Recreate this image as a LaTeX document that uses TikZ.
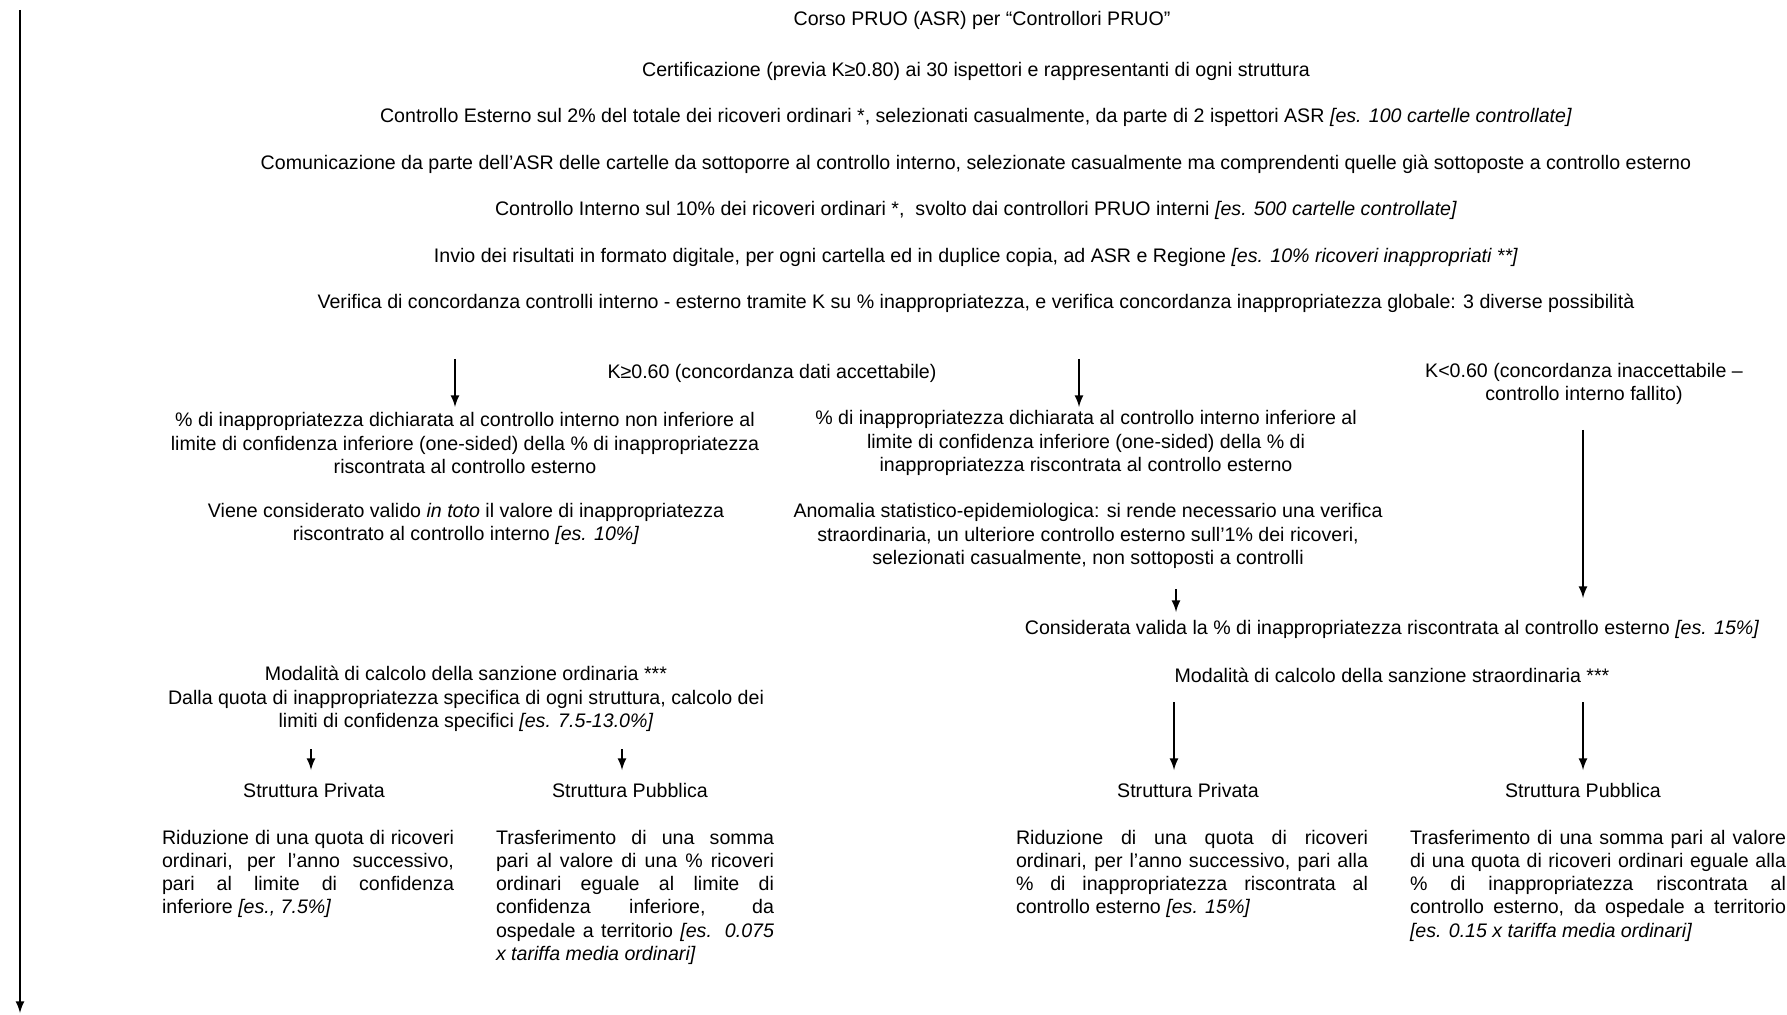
\documentclass[tikz,border=0pt]{standalone}
\usepackage{fontspec}
\setmainfont{Liberation Sans}
\newcommand{\jrow}[2]{\setbox0\hbox{#2}\ifdim\wd0>#1\relax\resizebox{#1}{\height}{#2}\else\makebox[#1][s]{#2}\fi}
\begin{document}
\begin{tikzpicture}[>=latex,x=0.5pt,y=-0.5pt,line width=1pt,
  txt/.style={inner sep=0pt,align=center,font=\fontsize{9.8}{11.6}\selectfont},
  blk/.style={inner sep=0pt,align=left,anchor=north west,font=\fontsize{9.8}{11.6}\selectfont}]
\useasboundingbox (0,0) rectangle (1787,1015);
\coordinate (top) at (20,10);
\coordinate (bot) at (20,1013);
\draw[->] (top)--(bot);

\node[txt] (t1) at (982,20) {Corso PRUO (ASR) per “Controllori PRUO”};
\node[txt] (t2) at (976,71) {Certificazione (previa K≥0.80) ai 30 ispettori e rappresentanti di ogni struttura};
\node[txt] (t3) at (976,117) {Controllo Esterno sul 2\% del totale dei ricoveri ordinari *, selezionati casualmente, da parte di 2 ispettori ASR \textit{[es. 100 cartelle controllate]}};
\node[txt] (t4) at (976,164) {Comunicazione da parte dell’ASR delle cartelle da sottoporre al controllo interno, selezionate casualmente ma comprendenti quelle già sottoposte a controllo esterno};
\node[txt] (t5) at (976,210) {Controllo Interno sul 10\% dei ricoveri ordinari *,\ \ svolto dai controllori PRUO interni \textit{[es. 500 cartelle controllate]}};
\node[txt] (t6) at (976,257) {Invio dei risultati in formato digitale, per ogni cartella ed in duplice copia, ad ASR e Regione \textit{[es. 10\% ricoveri inappropriati **]}};
\node[txt] (t7) at (976,303) {Verifica di concordanza controlli interno - esterno tramite K su \% inappropriatezza, e verifica concordanza inappropriatezza globale: 3 diverse possibilità};

\node[txt] (kok) at (772,373) {K≥0.60 (concordanza dati accettabile)};
\node[txt] (kno) at (1584,384) {K<0.60 (concordanza inaccettabile –\\controllo interno fallito)};
\node[txt] (p1) at (465,443) {\% di inappropriatezza dichiarata al controllo interno non inferiore al\\limite di confidenza inferiore (one-sided) della \% di inappropriatezza\\riscontrata al controllo esterno};
\node[txt] (p2) at (466,524) {Viene considerato valido \textit{in toto} il valore di inappropriatezza\\riscontrato al controllo interno \textit{[es. 10\%]}};
\node[txt] (q1) at (1086,443) {\% di inappropriatezza dichiarata al controllo interno inferiore al\\limite di confidenza inferiore (one-sided) della \% di\\inappropriatezza riscontrata al controllo esterno};
\node[txt] (q2) at (1088,536) {Anomalia statistico-epidemiologica: si rende necessario una verifica\\straordinaria, un ulteriore controllo esterno sull’1\% dei ricoveri,\\selezionati casualmente, non sottoposti a controlli};
\node[txt] (q3) at (1392,629) {Considerata valida la \% di inappropriatezza riscontrata al controllo esterno \textit{[es. 15\%]}};
\node[txt] (s1) at (466,699) {Modalità di calcolo della sanzione ordinaria ***\\Dalla quota di inappropriatezza specifica di ogni struttura, calcolo dei\\limiti di confidenza specifici \textit{[es. 7.5-13.0\%]}};
\node[txt] (s2) at (1392,675) {Modalità di calcolo della sanzione straordinaria ***};

\node[txt] (priv1) at (314,790) {Struttura Privata};
\node[txt] (pubb1) at (630,790) {Struttura Pubblica};
\node[txt] (priv2) at (1188,790) {Struttura Privata};
\node[txt] (pubb2) at (1583,790) {Struttura Pubblica};

\node[blk] (ridA) at (161,829) {\jrow{146pt}{Riduzione di una quota di ricoveri}\\
\jrow{146pt}{ordinari, per l’anno successivo,}\\
\jrow{146pt}{pari al limite di confidenza}\\
inferiore \textit{[es., 7.5\%]}};
\node[blk] (trasB) at (495,829) {\jrow{139pt}{Trasferimento di una somma}\\
\jrow{139pt}{pari al valore di una \% ricoveri}\\
\jrow{139pt}{ordinari eguale al limite di}\\
\jrow{139pt}{confidenza inferiore, da}\\
\jrow{139pt}{ospedale a territorio \textit{[es. 0.075}}\\
\textit{x tariffa media ordinari]}};
\node[blk] (ridC) at (1015,829) {\jrow{176pt}{Riduzione di una quota di ricoveri}\\
\jrow{176pt}{ordinari, per l’anno successivo, pari alla}\\
\jrow{176pt}{\% di inappropriatezza riscontrata al}\\
controllo esterno \textit{[es. 15\%]}};
\node[blk] (trasD) at (1409,829) {\jrow{188pt}{Trasferimento di una somma pari al valore}\\
\jrow{188pt}{di una quota di ricoveri ordinari eguale alla}\\
\jrow{188pt}{\% di inappropriatezza riscontrata al}\\
\jrow{188pt}{controllo esterno, da ospedale a territorio}\\
\textit{[es. 0.15 x tariffa media ordinari]}};

\coordinate (a1) at (455,359); \coordinate (a1e) at (455,407);
\coordinate (a2) at (1079,359); \coordinate (a2e) at (1079,407);
\coordinate (a3) at (1583,430); \coordinate (a3e) at (1583,598);
\coordinate (a4) at (1176,589); \coordinate (a4e) at (1176,612);
\coordinate (b1) at (311,749); \coordinate (b1e) at (311,770);
\coordinate (b2) at (622,749); \coordinate (b2e) at (622,770);
\coordinate (b3) at (1174,702); \coordinate (b3e) at (1174,770);
\coordinate (b4) at (1583,702); \coordinate (b4e) at (1583,770);
\draw[->] (a1)--(a1e);
\draw[->] (a2)--(a2e);
\draw[->] (a3)--(a3e);
\draw[->] (a4)--(a4e);
\draw[->] (b1)--(b1e);
\draw[->] (b2)--(b2e);
\draw[->] (b3)--(b3e);
\draw[->] (b4)--(b4e);
\end{tikzpicture}
\end{document}
